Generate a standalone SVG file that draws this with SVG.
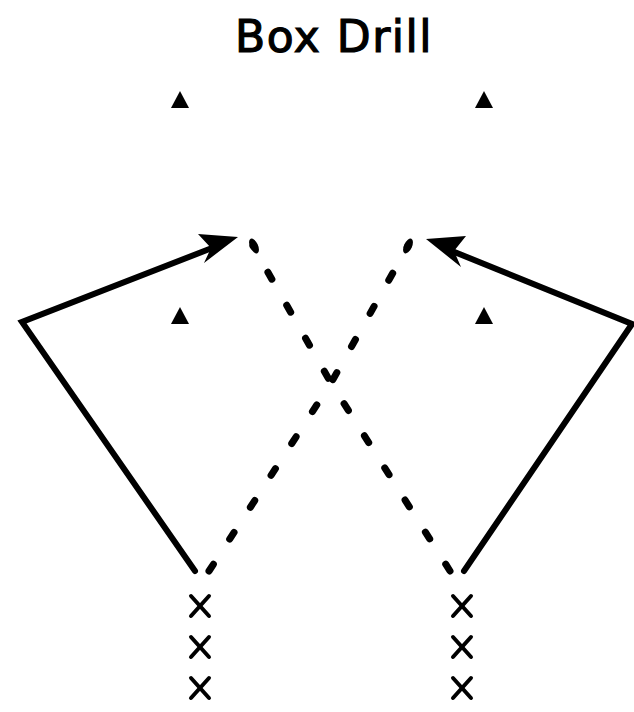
<svg xmlns="http://www.w3.org/2000/svg" width="634" height="712" viewBox="0 0 634 712">
<style>
.t{font-family:"DejaVu Sans",sans-serif;font-size:44px;letter-spacing:1.5px;fill:#000;stroke:#000;stroke-width:1.2px}
.solid{fill:none;stroke:#000;stroke-width:6;stroke-linecap:round;stroke-linejoin:miter}
.dash{fill:none;stroke:#000;stroke-width:7;stroke-linecap:round;stroke-dasharray:8 30}
.cone{fill:#000}
.x{stroke:#000;stroke-width:4;stroke-linecap:round}
</style>
<defs>
<path id="cone" d="M0,-9 L9,8 L-9,8 Z"/>
<g id="xm"><line x1="-9" y1="-10" x2="9" y2="10"/><line x1="9" y1="-10" x2="-9" y2="10"/></g>
</defs>
<text class="t" x="334" y="52" text-anchor="middle">Box Drill</text>
<g id="cones" class="cone">
<use href="#cone" x="180" y="100"/>
<use href="#cone" x="484" y="100"/>
<use href="#cone" x="180" y="316"/>
<use href="#cone" x="484" y="316"/>
</g>
<g id="connectors">
<path class="solid" d="M195,571 L22,322 L212,248"/>
<path d="M238,237 L204,263 L211,248 L198,234 Z" fill="#000"/>
<path class="solid" d="M464,571 L632,324 L452,251"/>
<path d="M426,239 L466,236 L454,251 L461,267 Z" fill="#000"/>
<path class="dash" d="M450,571 L331,383 L253,246"/>
<path class="dash" d="M209,571 L331,383 L408,246"/>
<ellipse cx="254" cy="246" rx="4" ry="8" transform="rotate(-25 254 246)"/>
<ellipse cx="408" cy="246" rx="4" ry="8" transform="rotate(25 408 246)"/>
</g>
<g id="players-left" class="x">
<use href="#xm" x="200" y="606"/>
<use href="#xm" x="200" y="647"/>
<use href="#xm" x="200" y="688"/>
</g>
<g id="players-right" class="x">
<use href="#xm" x="462" y="606"/>
<use href="#xm" x="462" y="647"/>
<use href="#xm" x="462" y="688"/>
</g>
</svg>
